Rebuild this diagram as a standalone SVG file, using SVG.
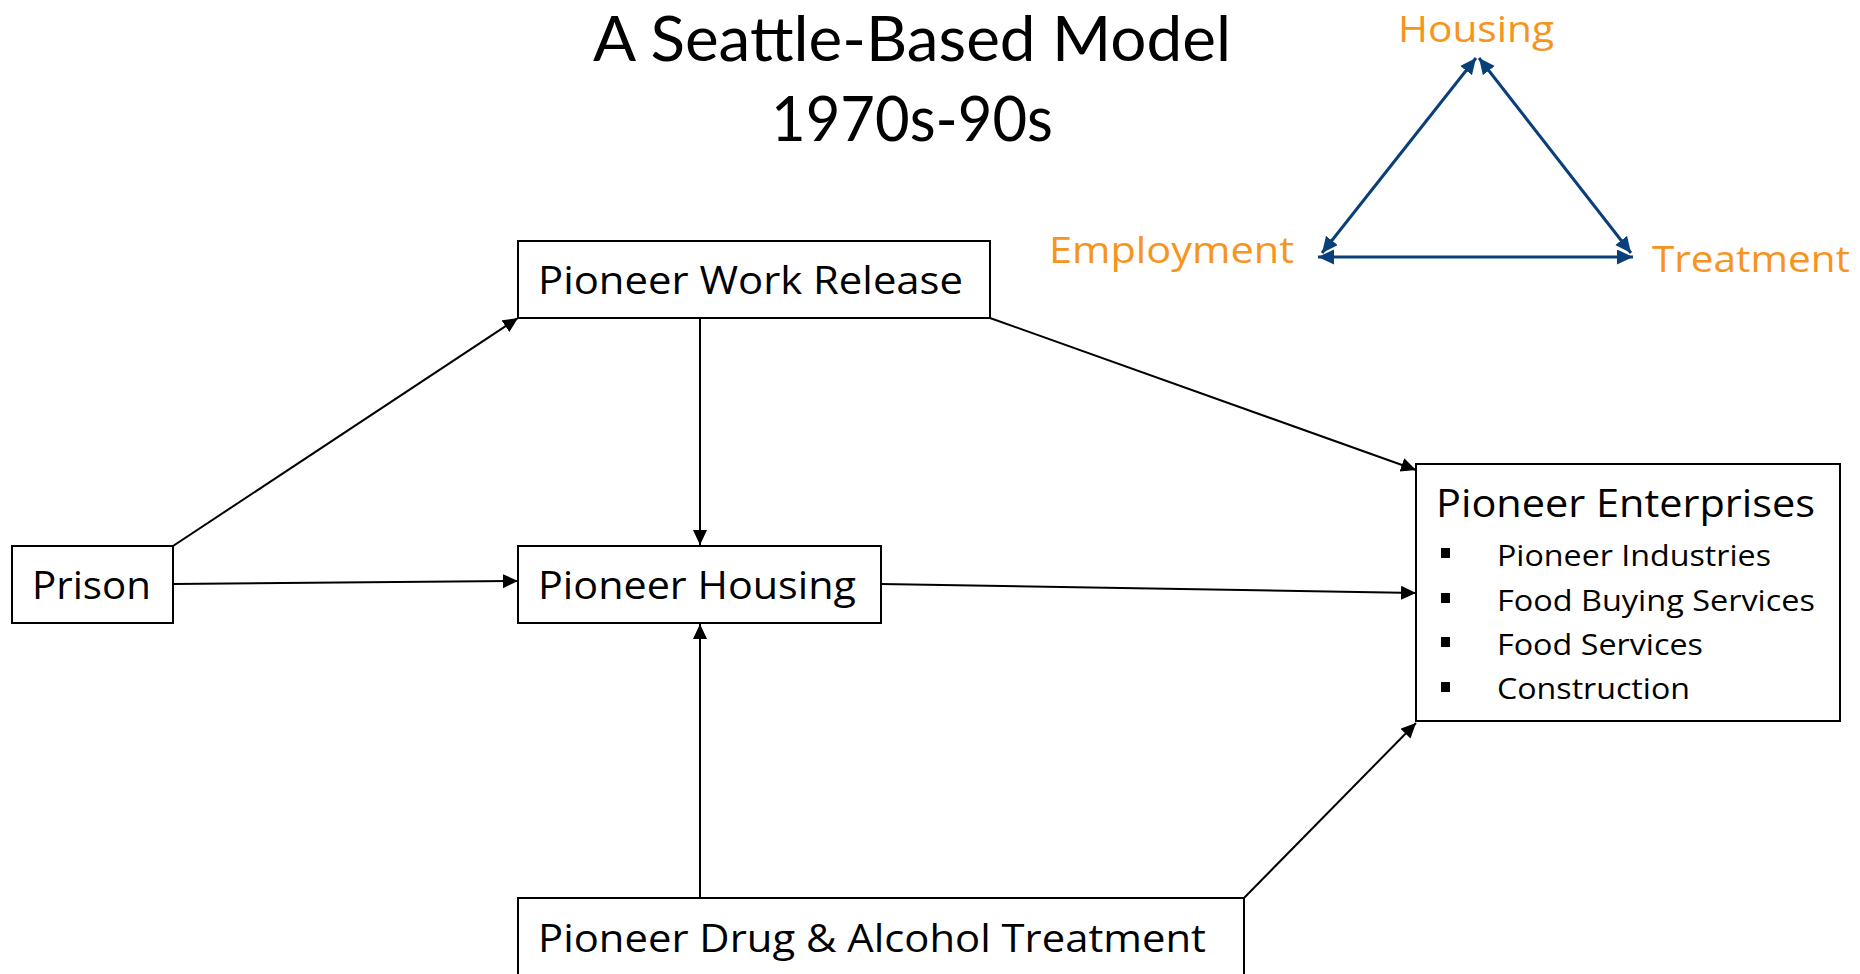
<svg xmlns="http://www.w3.org/2000/svg" width="1860" height="974" viewBox="0 0 1860 974">
  <style>
    .box { fill: #ffffff; stroke: #000000; stroke-width: 2; }
    .lbl { font-family: "Open Sans", "Noto Sans", sans-serif; fill: #000000; }
    .title { font-family: Lato, "Open Sans", sans-serif; font-size: 62px; }
    .node { font-size: 38px; }
    .item { font-size: 29px; }
    .key { font-family: "Open Sans", "Noto Sans", sans-serif; font-size: 36px; fill: #F7941D; }
    .link { stroke: #000000; stroke-width: 2; fill: none; marker-end: url(#arrow); }
    .tri { stroke: #0B3F7A; stroke-width: 3; fill: none; marker-start: url(#tip); marker-end: url(#tip); }
  </style>
  <defs>
    <marker id="arrow" markerUnits="userSpaceOnUse" markerWidth="16" markerHeight="15" refX="15" refY="7" orient="auto">
      <path d="M0,0 L15,7 L0,14 Z" fill="#000000"/>
    </marker>
    <marker id="tip" markerUnits="userSpaceOnUse" markerWidth="17" markerHeight="16" refX="16" refY="7.5" orient="auto-start-reverse">
      <path d="M0,0 L16,7.5 L0,15 Z" fill="#0B3F7A"/>
    </marker>
  </defs>

  <rect width="1860" height="974" fill="#ffffff"/>

  <!-- heading -->
  <g id="title">
    <text class="lbl title" x="593" y="61" textLength="638" lengthAdjust="spacingAndGlyphs">A Seattle-Based Model</text>
    <text class="lbl title" x="771" y="141" textLength="282" lengthAdjust="spacingAndGlyphs">1970s-90s</text>
  </g>

  <!-- housing / employment / treatment triangle -->
  <g id="triangle">
    <line class="tri" x1="1322" y1="253" x2="1476" y2="58"/>
    <line class="tri" x1="1479" y1="58" x2="1631" y2="253"/>
    <line class="tri" x1="1318" y1="257" x2="1633" y2="257"/>
    <text class="key" x="1398" y="42" textLength="156" lengthAdjust="spacingAndGlyphs">Housing</text>
    <text class="key" x="1049" y="263" textLength="245" lengthAdjust="spacingAndGlyphs">Employment</text>
    <text class="key" x="1652" y="272" textLength="198" lengthAdjust="spacingAndGlyphs">Treatment</text>
  </g>

  <!-- connectors -->
  <g id="connectors">
    <line class="link" x1="173" y1="546" x2="518" y2="318"/>
    <line class="link" x1="173" y1="584" x2="518" y2="581"/>
    <line class="link" x1="700" y1="318" x2="700" y2="545"/>
    <line class="link" x1="990" y1="318" x2="1416" y2="470"/>
    <line class="link" x1="881" y1="584" x2="1416" y2="593"/>
    <line class="link" x1="700" y1="898" x2="700" y2="624"/>
    <line class="link" x1="1244" y1="898" x2="1416" y2="723"/>
  </g>

  <g id="prison">
    <rect class="box" x="12" y="546" width="161" height="77"/>
    <text class="lbl node" x="32" y="599" textLength="119" lengthAdjust="spacingAndGlyphs">Prison</text>
  </g>

  <g id="work-release">
    <rect class="box" x="518" y="241" width="472" height="77"/>
    <text class="lbl node" x="538" y="294" textLength="425" lengthAdjust="spacingAndGlyphs">Pioneer Work Release</text>
  </g>

  <g id="housing">
    <rect class="box" x="518" y="546" width="363" height="77"/>
    <text class="lbl node" x="538" y="599" textLength="318" lengthAdjust="spacingAndGlyphs">Pioneer Housing</text>
  </g>

  <g id="treatment">
    <rect class="box" x="518" y="898" width="726" height="90"/>
    <text class="lbl node" x="538" y="952" textLength="668" lengthAdjust="spacingAndGlyphs">Pioneer Drug &amp; Alcohol Treatment</text>
  </g>

  <g id="enterprises">
    <rect class="box" x="1416" y="464" width="424" height="257"/>
    <text class="lbl node" x="1436" y="517" textLength="379" lengthAdjust="spacingAndGlyphs">Pioneer Enterprises</text>
    <rect x="1441" y="548" width="9" height="10" fill="#000000"/>
    <rect x="1441" y="593" width="9" height="10" fill="#000000"/>
    <rect x="1441" y="637" width="9" height="10" fill="#000000"/>
    <rect x="1441" y="682" width="9" height="10" fill="#000000"/>
    <text class="lbl item" x="1497" y="566" textLength="274" lengthAdjust="spacingAndGlyphs">Pioneer Industries</text>
    <text class="lbl item" x="1497" y="611" textLength="318" lengthAdjust="spacingAndGlyphs">Food Buying Services</text>
    <text class="lbl item" x="1497" y="655" textLength="206" lengthAdjust="spacingAndGlyphs">Food Services</text>
    <text class="lbl item" x="1497" y="699" textLength="193" lengthAdjust="spacingAndGlyphs">Construction</text>
  </g>
</svg>
